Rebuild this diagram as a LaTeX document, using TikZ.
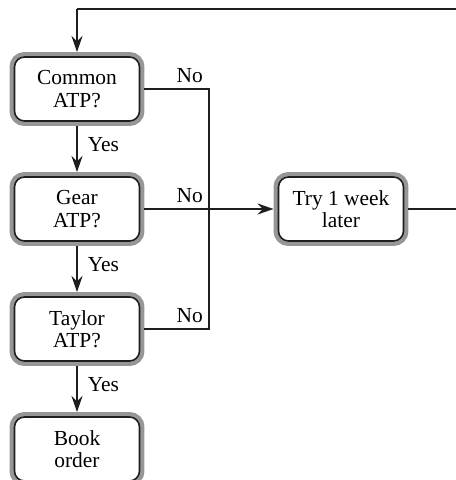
\documentclass[tikz,border=0pt]{standalone}
\usepackage{fontspec}
\setmainfont{Liberation Serif}
\usepackage{tikz}
\usetikzlibrary{arrows.meta, calc}
\definecolor{rimgray}{RGB}{150, 150, 150}
\definecolor{linkblack}{RGB}{30, 30, 30}
\tikzset{
  askbox/.style={draw=linkblack, line width=0.9pt, fill=white,
    rounded corners=0.2cm, minimum width=2.5cm, minimum height=1.28cm,
    align=center, outer sep=0.1cm, font=\fontsize{12.2}{12.6}\selectfont,
    preaction={draw=rimgray, line width=0.2cm}},
  link/.style={draw=linkblack, line width=1.15pt},
  tolink/.style={link, -{Stealth[length=3.2mm, width=2.2mm]}},
  tag/.style={font=\fontsize{12.2}{12.6}\selectfont, inner sep=1pt}
}

\begin{document}
\begin{tikzpicture}[x=0.02cm, y=-0.02cm]
    \useasboundingbox (0,0) rectangle (456,480);
    % Checks down the left side
    \node[askbox] (common) at (77,89)  {Common\\ATP?};
    \node[askbox] (gear)   at (77,209) {Gear\\ATP?};
    \node[askbox] (taylor) at (77,329) {Taylor\\ATP?};
    \node[askbox] (book)   at (77,449) {Book\\order};
    % Retry box
    \node[askbox] (retry)  at (341,209) {Try 1 week\\later};
    % Yes arrows
    \draw[tolink] (common) -- node[tag, right=0.16cm, pos=0.4] {Yes} (gear);
    \draw[tolink] (gear)   -- node[tag, right=0.16cm, pos=0.4] {Yes} (taylor);
    \draw[tolink] (taylor) -- node[tag, right=0.16cm, pos=0.4] {Yes} (book);
    % No branches into the collector
    \coordinate (busup) at (209,89);
    \coordinate (busdn) at (209,329);
    \draw[link] (common.east) -- (busup) -- (busdn) -- (taylor.east);
    \draw[tolink] (gear.east) -- (retry.west);
    \node[tag, above left] at ($(busup)+(-4,-4)$) {No};
    \node[tag, above left] at ($(gear.east -| busup)+(-4,-4)$) {No};
    \node[tag, above left] at ($(busdn)+(-4,-4)$) {No};
    % Loop back to the top
    \coordinate (loopr) at (470,209);
    \coordinate (loopt) at (470,9);
    \draw[link] (retry.east) -- (loopr) -- (loopt) -- (common.north |- loopt);
    \draw[tolink] (common.north |- loopt) -- (common.north);
\end{tikzpicture}
\end{document}
